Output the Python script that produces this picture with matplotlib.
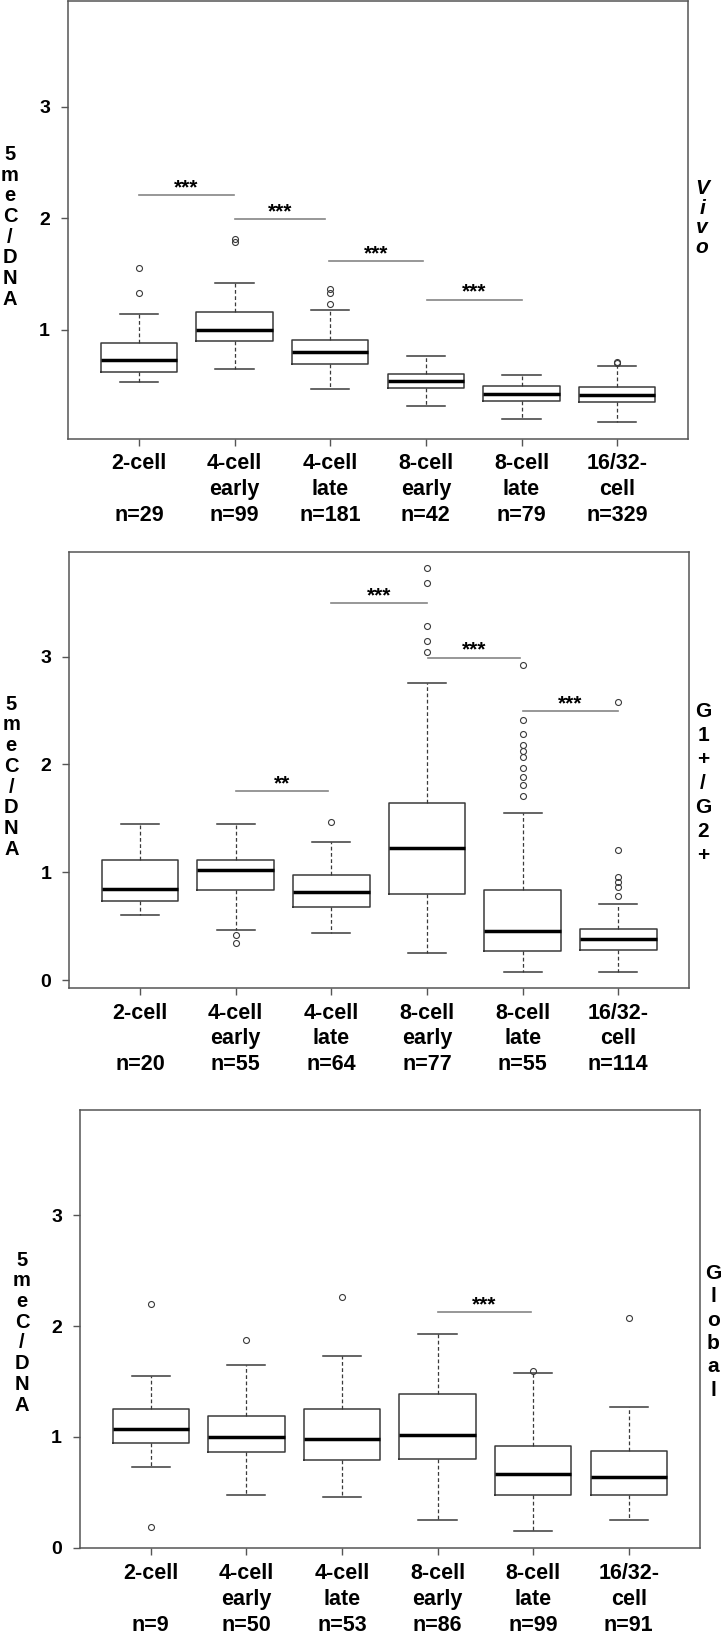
import matplotlib
matplotlib.use('Agg')
import matplotlib.pyplot as plt

plt.rcParams['font.family'] = ['Liberation Sans', 'DejaVu Sans']

# x axis labels (two lines each) shared by all panels
stage_top = ['2-cell', '4-cell', '4-cell', '8-cell', '8-cell', '16/32-']
stage_bottom = ['', 'early', 'late', 'early', 'late', 'cell']

# --- in vivo ---
vivo_n = [29, 99, 181, 42, 79, 329]
vivo_q1 = [0.62, 0.90, 0.69, 0.48, 0.363, 0.351]
vivo_med = [0.728, 1.00, 0.803, 0.54, 0.423, 0.414]
vivo_q3 = [0.877, 1.155, 0.904, 0.605, 0.492, 0.483]
vivo_lo = [0.534, 0.65, 0.465, 0.318, 0.199, 0.172]
vivo_hi = [1.137, 1.421, 1.179, 0.767, 0.596, 0.674]
vivo_out = [[1.553, 1.332], [1.81, 1.79], [1.362, 1.332, 1.23], [], [], [0.713, 0.698]]
vivo_sig = [(1, 1.99, 2.208, '***'), (2, 2.95, 1.99, '***'),
            (2.99, 3.97, 1.616, '***'), (4.01, 5.0, 1.269, '***')]

# --- G1+/G2+ ---
g12_n = [20, 55, 64, 77, 55, 114]
g12_q1 = [0.732, 0.84, 0.683, 0.803, 0.272, 0.278]
g12_med = [0.846, 1.019, 0.816, 1.223, 0.454, 0.383]
g12_q3 = [1.118, 1.118, 0.979, 1.643, 0.834, 0.476]
g12_lo = [0.609, 0.466, 0.442, 0.25, 0.077, 0.077]
g12_hi = [1.449, 1.449, 1.282, 2.753, 1.554, 0.707]
g12_out = [[], [0.417, 0.349], [1.47],
           [3.825, 3.686, 3.284, 3.148, 3.043],
           [2.919, 2.413, 2.286, 2.184, 2.122, 2.07, 1.971, 1.881, 1.813, 1.705],
           [2.576, 1.208, 0.961, 0.911, 0.868, 0.782]]
g12_sig = [(2, 2.96, 1.755, '**'), (3, 4.0, 3.494, '***'),
           (4.01, 4.97, 2.99, '***'), (5, 6.0, 2.493, '***')]

# --- global ---
glob_n = [9, 50, 53, 86, 99, 91]
glob_q1 = [0.949, 0.861, 0.792, 0.798, 0.479, 0.473]
glob_med = [1.072, 1.0, 0.985, 1.015, 0.666, 0.639]
glob_q3 = [1.25, 1.19, 1.25, 1.386, 0.919, 0.87]
glob_lo = [0.726, 0.479, 0.455, 0.247, 0.148, 0.253]
glob_hi = [1.545, 1.648, 1.732, 1.928, 1.575, 1.268]
glob_out = [[2.196, 0.19], [1.87], [2.26], [], [1.593], [2.07]]
glob_sig = [(4, 4.98, 2.123, '***')]

EDGE = '#3a3a3a'
FRAME = '#555555'


def stack_text(ax, letters, x_anchor, dx, dy_center, step, size, style='normal'):
    # vertical stacked letters, baselines evenly spaced
    k = len(letters)
    em = size * 100 / 72.0
    for i, ch in enumerate(letters):
        off = dy_center + (i - (k - 1) / 2.0) * step + 0.36 * em
        ax.annotate(ch, xy=(x_anchor, 0.5), xycoords='axes fraction',
                    xytext=(dx, -off), textcoords='offset pixels',
                    ha='center', va='baseline', fontsize=size,
                    fontweight='bold', fontstyle=style, annotation_clip=False)


def draw_panel(ax, n, q1, med, q3, lo, hi, out, sig, ylim, yticks,
               side, side_step, side_style, side_shift, ylab_shift, xlab_shift=0):
    stats = [dict(med=med[i], q1=q1[i], q3=q3[i], whislo=lo[i], whishi=hi[i],
                  fliers=out[i]) for i in range(len(n))]
    ax.bxp(stats, positions=range(1, len(n) + 1), widths=0.8, capwidths=0.4,
           manage_ticks=False,
           boxprops=dict(color=EDGE, linewidth=1.1),
           medianprops=dict(color='black', linewidth=2.5, solid_capstyle='butt'),
           whiskerprops=dict(color=EDGE, linewidth=0.9, linestyle=(0, (3, 2))),
           capprops=dict(color=EDGE, linewidth=1.1),
           flierprops=dict(marker='o', markersize=4.3, markerfacecolor='none',
                           markeredgecolor=EDGE, markeredgewidth=0.8))

    for a, b, y, lab in sig:
        ax.plot([a, b], [y, y], color='#858585', linewidth=1.2)
        ax.annotate(lab, xy=((a + b) / 2.0, y), xytext=(0, 2),
                    textcoords='offset pixels', ha='center', va='baseline',
                    fontsize=15, fontweight='bold')

    ax.set_xlim(0.26, 6.74)
    ax.set_ylim(*ylim)
    ax.set_xticks(range(1, len(n) + 1))
    ax.set_xticklabels([])
    ax.set_yticks(yticks)
    ax.set_yticklabels([str(t) for t in yticks], fontsize=14, fontweight='bold')
    ax.tick_params(direction='out', length=5, width=1.0, color=FRAME, pad=8)
    for s in ax.spines.values():
        s.set_color(FRAME)
        s.set_linewidth(1.1)

    lines = [stage_top, stage_bottom, ['n=%d' % v for v in n]]
    for i in range(len(n)):
        for j, row in enumerate(lines):
            ax.annotate(row[i], xy=(i + 1, 0), xycoords=('data', 'axes fraction'),
                        xytext=(0, -25 - xlab_shift - j * 25.7), textcoords='offset pixels',
                        ha='center', va='center', fontsize=15.5, fontweight='bold',
                        annotation_clip=False)

    stack_text(ax, list('5meC/DNA'), 0, -58, ylab_shift, 20.7, 14.5)
    stack_text(ax, side, 1, 14, side_shift, side_step, 15, side_style)


fig = plt.figure(figsize=(7.26, 16.37), dpi=100)

ax1 = fig.add_axes([0.0937, 0.7320, 0.8540, 0.2671])
draw_panel(ax1, vivo_n, vivo_q1, vivo_med, vivo_q3, vivo_lo, vivo_hi, vivo_out, vivo_sig,
           (0.022, 3.944), [1, 2, 3], list('Vivo'), 19.5, 'italic', -4, 5)

ax2 = fig.add_axes([0.0955, 0.3963, 0.8536, 0.2667])
draw_panel(ax2, g12_n, g12_q1, g12_med, g12_q3, g12_lo, g12_hi, g12_out, g12_sig,
           (-0.074, 3.972), [0, 1, 2, 3], list('G1+/G2+'), 24, 'normal', 12, 5)

ax3 = fig.add_axes([0.1102, 0.05455, 0.8533, 0.2674])
draw_panel(ax3, glob_n, glob_q1, glob_med, glob_q3, glob_lo, glob_hi, glob_out, glob_sig,
           (0.0, 3.95), [0, 1, 2, 3], list('Global'), 23.4, 'normal', 1, 2, 1)

fig.savefig('out.png', dpi=100)
